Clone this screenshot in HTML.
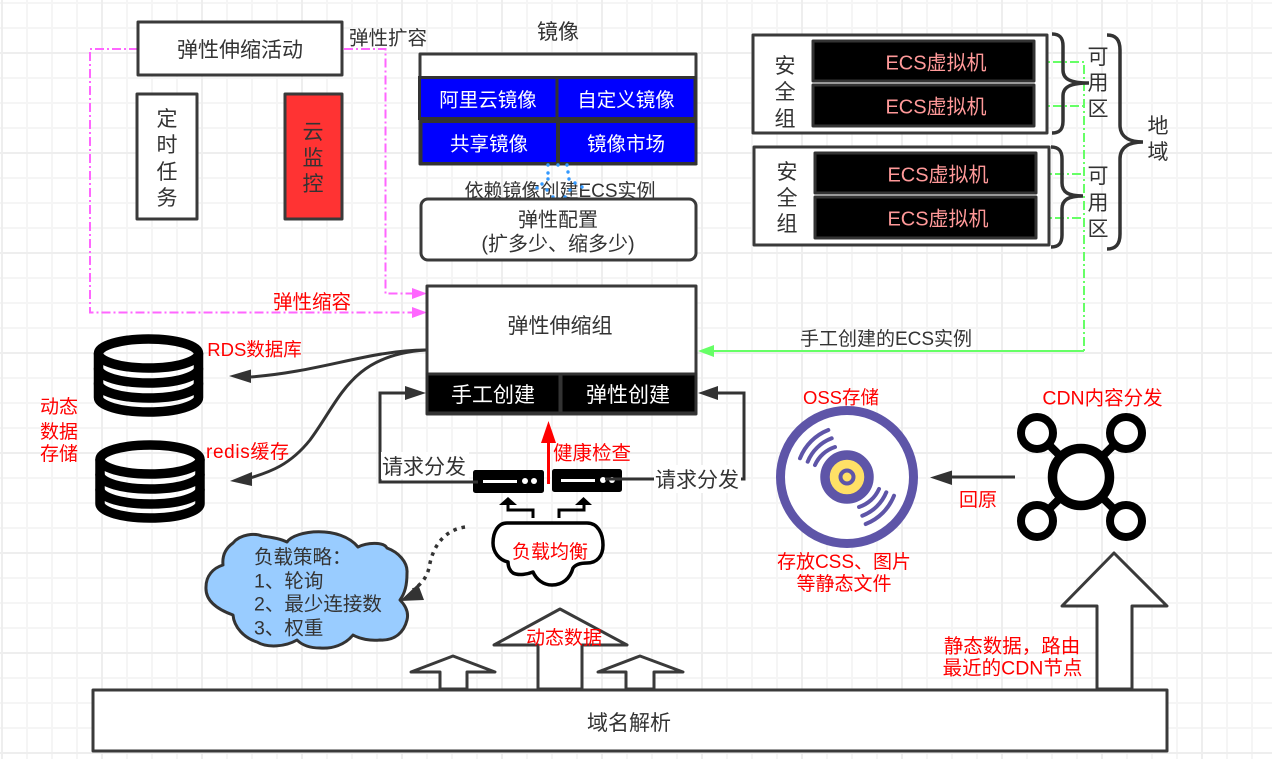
<!DOCTYPE html>
<html><head><meta charset="utf-8"><style>
html,body{margin:0;padding:0;background:#fff;width:1272px;height:759px;overflow:hidden}
svg{display:block}
text{font-family:"Liberation Sans","Noto Sans CJK SC",sans-serif;fill:#333;dominant-baseline:central;text-anchor:middle;transform:translateY(1.5px)}
.r{fill:#ff0000}.w{fill:#fff}.e{fill:#ff9999;font-size:20px}
.b{fill:#fff;stroke:#3a3a3a;stroke-width:3;stroke-linejoin:round}
.k{fill:#000;stroke:#333;stroke-width:3;stroke-linejoin:round}
.bl{fill:#0000ff;stroke:#333;stroke-width:3}
.n{fill:none;stroke:#333;stroke-width:3}
.br{fill:none;stroke:#333;stroke-width:3.500}
.db{fill:none;stroke:#000;stroke-width:9.500;stroke-linecap:round}
</style></head><body>
<svg width="1272" height="759" viewBox="0 0 1272 759" xmlns="http://www.w3.org/2000/svg">
<defs>
<pattern id="g1" width="25" height="25" patternUnits="userSpaceOnUse" x="1" y="2"><path d="M1,0V25M0,1H25" stroke="#f5f5f5" stroke-width="2" fill="none"/></pattern>
<pattern id="g2" width="100" height="100" patternUnits="userSpaceOnUse" x="1" y="52"><path d="M1,0V100M0,1H100" stroke="#eeeeee" stroke-width="2" fill="none"/></pattern>
</defs>
<rect width="1272" height="759" fill="url(#g1)"/>
<rect width="1272" height="759" fill="url(#g2)"/>

<!-- pink connectors -->
<g fill="none" stroke="#ff66ff" stroke-width="2" stroke-dasharray="9 3 2 3">
<path d="M138,49H90V312.500H415"/>
<path d="M344,49H385.500V293.500H415"/>
</g>
<path d="M412,288L427,293.500L412,299Z M412,307L427,312.500L412,318Z" fill="#ff66ff"/>

<!-- green connectors -->
<g fill="none" stroke="#66ff66" stroke-width="2" stroke-dasharray="9 3 2 3">
<path d="M1036,62H1084V351"/><path d="M1036,106H1084"/><path d="M1038,174H1084"/><path d="M1038,218H1084"/>
</g>
<path d="M1084,351H712" stroke="#66ff66" stroke-width="2" fill="none"/>
<path d="M698,351L714,345V357Z" fill="#66ff66"/>

<!-- auto scaling activity -->
<rect class="b" x="138" y="22" width="204" height="53"/>
<text x="240" y="49" font-size="21">弹性伸缩活动</text>
<rect class="b" x="137" y="94" width="60" height="125"/>
<text x="167" y="118" font-size="21">定</text><text x="167" y="144" font-size="21">时</text><text x="167" y="171" font-size="21">任</text><text x="167" y="197" font-size="21">务</text>
<rect class="b" x="285" y="94" width="57" height="125" style="fill:#ff3333"/>
<text x="313" y="131" font-size="21">云</text><text x="313" y="157" font-size="21">监</text><text x="313" y="183" font-size="21">控</text>
<text x="388" y="37" font-size="19.500">弹性扩容</text>
<text class="r" x="312" y="301" font-size="19.500">弹性缩容</text>

<!-- images -->
<text x="558" y="31" font-size="21">镜像</text>
<rect class="b" x="420" y="54" width="276" height="110"/>
<rect class="bl" x="419.500" y="77.500" width="137.500" height="41"/>
<rect class="bl" x="557" y="77.500" width="138" height="41"/>
<rect class="bl" x="421" y="121.500" width="136.500" height="42"/>
<rect class="bl" x="558.500" y="121.500" width="137.500" height="42"/>
<text class="w" x="488" y="99" font-size="19.500">阿里云镜像</text>
<text class="w" x="626" y="99" font-size="19.500">自定义镜像</text>
<text class="w" x="489" y="143" font-size="19.500">共享镜像</text>
<text class="w" x="626" y="143" font-size="19.500">镜像市场</text>
<text x="560" y="190" font-size="19">依赖镜像创建ECS实例</text>
<g fill="#3399ff">
<circle cx="548" cy="165" r="1.700"/><circle cx="558" cy="165" r="1.700"/><circle cx="567" cy="165" r="1.700"/>
<circle cx="568" cy="172" r="1.700"/><circle cx="569" cy="179" r="1.700"/><circle cx="575" cy="183" r="1.700"/><circle cx="582" cy="187" r="1.700"/>
<circle cx="548" cy="173" r="1.700"/><circle cx="548" cy="179" r="1.700"/><circle cx="542" cy="184" r="1.700"/><circle cx="537" cy="188" r="1.700"/>
<circle cx="547" cy="190" r="1.700"/><circle cx="553" cy="197" r="1.700"/><circle cx="558" cy="199" r="1.700"/><circle cx="565" cy="197" r="1.700"/><circle cx="570" cy="190" r="1.700"/>
</g>
<rect class="b" x="421" y="199" width="275" height="61" rx="7"/>
<text x="558" y="219" font-size="20">弹性配置</text>
<text x="558" y="243" font-size="20">(扩多少、缩多少)</text>

<!-- security groups -->
<rect class="b" x="753" y="35" width="294" height="98"/>
<rect class="k" x="813" y="41" width="221" height="40"/>
<rect class="k" x="813" y="85" width="221" height="41"/>
<text class="e" x="936" y="62">ECS虚拟机</text><text class="e" x="936" y="106">ECS虚拟机</text>
<text x="785" y="65" font-size="21">安</text><text x="785" y="91" font-size="21">全</text><text x="785" y="118" font-size="21">组</text>
<rect class="b" x="754" y="147" width="295" height="98"/>
<rect class="k" x="815" y="153" width="221" height="40"/>
<rect class="k" x="815" y="197" width="221" height="41"/>
<text class="e" x="938" y="174">ECS虚拟机</text><text class="e" x="938" y="218">ECS虚拟机</text>
<text x="787" y="171" font-size="21">安</text><text x="787" y="197" font-size="21">全</text><text x="787" y="223" font-size="21">组</text>

<!-- braces -->
<path class="br" d="M1052,34C1060,34 1063,38 1063,46V70C1063,79 1070,83 1089,83C1070,83 1063,87 1063,96V121C1063,129 1060,133 1052,133"/>
<path class="br" d="M1051,147C1059,147 1062,151 1062,159V183C1062,192 1068,196 1083,196C1068,196 1062,200 1062,209V235C1062,243 1059,247 1051,247"/>
<path class="br" d="M1107,35C1116,35 1120,40 1120,50V125C1120,136 1128,142 1143,142C1128,142 1120,148 1120,159V234C1120,244 1116,249 1107,249"/>
<text x="1098" y="56" font-size="21">可</text><text x="1098" y="82" font-size="21">用</text><text x="1098" y="108" font-size="21">区</text>
<text x="1098" y="175" font-size="21">可</text><text x="1098" y="202" font-size="21">用</text><text x="1098" y="228" font-size="21">区</text>
<text x="1158" y="125" font-size="21">地</text><text x="1158" y="151" font-size="21">域</text>
<text x="886" y="338" font-size="19">手工创建的ECS实例</text>

<!-- scaling group -->
<rect class="b" x="427" y="286" width="269" height="128"/>
<rect class="k" x="427" y="374" width="133" height="39"/>
<rect class="k" x="561" y="374" width="135" height="39"/>
<text class="w" x="493" y="394" font-size="21">手工创建</text>
<text class="w" x="628" y="394" font-size="21">弹性创建</text>
<text x="560" y="325" font-size="21">弹性伸缩组</text>

<!-- curves to db -->
<path class="n" d="M426,350C370,350 320,372 250,377"/>
<path d="M229,376L251,369.500V383Z" fill="#333"/>
<path class="n" d="M426,350C350,355 340,400 310,440C290,465 270,472 250,478"/>
<path d="M230,481L252,472V486Z" fill="#333"/>

<!-- request dispatch -->
<path class="n" d="M478,482H380V393H406"/>
<path d="M405,386L426,393L405,400Z" fill="#333"/>
<path class="n" d="M620,479H744V393H718"/>
<path d="M718,386L698,393L718,400Z" fill="#333"/>
<rect x="381" y="452" width="88" height="27" fill="#fff"/>
<text x="424" y="466" font-size="21">请求分发</text>
<rect x="654" y="465" width="87" height="28" fill="#fff"/>
<text x="697" y="479" font-size="21">请求分发</text>

<!-- servers -->
<rect x="473" y="470" width="71" height="23" rx="2.500" fill="#000"/>
<rect x="552" y="469" width="70" height="23" rx="2.500" fill="#000"/>
<rect x="483" y="480" width="34" height="3" fill="#fff"/>
<circle cx="525" cy="481" r="3" fill="#fff"/><circle cx="534" cy="481" r="3" fill="#fff"/>
<rect x="561" y="479" width="34" height="3" fill="#fff"/>
<circle cx="603" cy="480" r="3" fill="#fff"/><circle cx="612" cy="480" r="3" fill="#fff"/>
<path d="M605,479H654" stroke="#333" stroke-width="3"/>
<path d="M473,482H478" stroke="#333" stroke-width="3"/>

<!-- health check -->
<path d="M548.500,484V442" stroke="#ff0000" stroke-width="3"/>
<path d="M548.500,421L556,443H541Z" fill="#ff0000"/>
<text class="r" x="592" y="452" font-size="19.500">健康检查</text>

<!-- small arrows -->
<path d="M533,518V510H508V504M559,518V510H584V504" fill="none" stroke="#000" stroke-width="3"/>
<path d="M508,497L517,505H499Z M583.500,497L592,505H575Z" fill="#000"/>

<!-- LB cloud -->
<path d="M507,523H587C598,523 603,534 603,545C603,556 597,563 587,563C581,563 576,564 573,568C570,579 562,585 552,585C543,585 536,579 533,572C528,574 519,576 513,573C509,570 508,566 508,562C499,560 493,552 493,543C493,532 498,523 507,523Z" fill="#fff" stroke="#000" stroke-width="3.500" stroke-linejoin="round"/>
<text class="r" x="550" y="551" font-size="19">负载均衡</text>

<!-- dotted arrow -->
<path d="M465,527C445,530 434,545 430,563C428,575 424,582 413,590" fill="none" stroke="#333" stroke-width="3.500" stroke-dasharray="3.500 5"/>
<path d="M400,601L418,584L424,600Z" fill="#333"/>

<!-- blue cloud -->
<path d="M233,543C240,534 255,533 262,536C270,537 281,539 287,542C295,530 340,525 358,547C368,542 384,542 387,548C398,552 408,562 407,573C407,585 405,593 400,600C405,605 409,612 407,620C404,632 395,641 380,640C370,641 360,639 353,635C345,645 332,649 320,648C310,648 302,645 297,640C285,647 267,648 257,642C244,638 234,627 233,615C219,610 205,602 206,587C206,576 213,568 223,565C222,555 226,548 233,543Z" fill="#99ccff" stroke="#333" stroke-width="3" stroke-linejoin="round"/>
<text x="254" y="556" font-size="19.500" style="text-anchor:start">负载策略：</text>
<text x="254" y="580" font-size="19.500" style="text-anchor:start">1、轮询</text>
<text x="254" y="603" font-size="19.500" style="text-anchor:start">2、最少连接数</text>
<text x="254" y="627" font-size="19.500" style="text-anchor:start">3、权重</text>

<!-- databases -->
<g class="db" transform="translate(-0.500,-0.500)">
<ellipse cx="149" cy="354" rx="50" ry="14.500"/>
<path d="M99,354V398A50,14.500 0 0 0 199,398V354"/>
<path d="M99,369A50,14.500 0 0 0 199,369"/>
<path d="M99,384A50,14.500 0 0 0 199,384"/>
</g>
<g class="db" transform="translate(1,105.500)">
<ellipse cx="149" cy="354" rx="50" ry="14.500"/>
<path d="M99,354V398A50,14.500 0 0 0 199,398V354"/>
<path d="M99,369A50,14.500 0 0 0 199,369"/>
<path d="M99,384A50,14.500 0 0 0 199,384"/>
</g>
<text class="r" x="254.500" y="348" font-size="18.500">RDS数据库</text>
<text class="r" x="247.500" y="451" font-size="19" textLength="83">redis缓存</text>
<text class="r" x="59" y="406" font-size="19">动态</text>
<text class="r" x="59" y="431" font-size="19">数据</text>
<text class="r" x="59" y="453" font-size="19">存储</text>

<!-- OSS -->
<circle cx="847" cy="477" r="66.500" fill="#fff" stroke="#5e55a8" stroke-width="9"/>
<circle cx="847" cy="477" r="22" fill="#ffe066" stroke="#5e55a8" stroke-width="9.500"/>
<circle cx="847" cy="477" r="6.500" fill="#ffe066" stroke="#5e55a8" stroke-width="4"/>
<g fill="none" stroke="#5e55a8" stroke-width="4" stroke-linecap="round">
<path d="M828.300,430A50,50 0 0 0 800,458.300"/>
<path d="M831.700,438.300A42,42 0 0 0 807.700,461.700"/>
<path d="M835,447A33,33 0 0 0 815,465"/>
<path d="M865.700,524A50,50 0 0 0 894,495.700"/>
<path d="M862.300,515.700A42,42 0 0 0 886.300,492.300"/>
<path d="M859,507A33,33 0 0 0 879,489"/>
</g>
<text class="r" x="841" y="396" font-size="18.500">OSS存储</text>
<text class="r" x="844" y="561" font-size="19">存放CSS、图片</text>
<text class="r" x="844" y="583" font-size="19">等静态文件</text>

<!-- CDN -->
<g stroke="#000" fill="none">
<path d="M1037,433L1126,521M1126,433L1037,521" stroke-width="8"/>
<circle cx="1081" cy="477" r="28.500" fill="#fff" stroke-width="9.500"/>
<circle cx="1037" cy="433" r="16" fill="#fff" stroke-width="8"/>
<circle cx="1126" cy="433" r="16" fill="#fff" stroke-width="8"/>
<circle cx="1037" cy="521" r="16" fill="#fff" stroke-width="8"/>
<circle cx="1126" cy="521" r="16" fill="#fff" stroke-width="8"/>
</g>
<text class="r" x="1102.500" y="397" font-size="19.500">CDN内容分发</text>
<path d="M1015,477H950" stroke="#333" stroke-width="3"/>
<path d="M930,477.500L952,470.500V485Z" fill="#333"/>
<text class="r" x="978" y="499" font-size="19">回原</text>

<!-- arrows and DNS -->
<path class="b" d="M1114,553L1167,606H1132V689H1097V606H1062Z"/>
<path class="b" d="M560,609L627,645H582V689H538V645H494Z"/>
<path class="b" d="M453,656L495,672H467V689H440V672H411Z"/>
<path class="b" d="M640,656L683,672H654V689H626V672H598Z"/>
<text class="r" x="564" y="637" font-size="19">动态数据</text>
<rect class="b" x="93" y="690" width="1074" height="61"/>
<text x="629" y="722" font-size="21">域名解析</text>
<text class="r" x="1012" y="645" font-size="19.500">静态数据，路由</text>
<text class="r" x="1012.500" y="667" font-size="19.500">最近的CDN节点</text>
</svg>
</body></html>
